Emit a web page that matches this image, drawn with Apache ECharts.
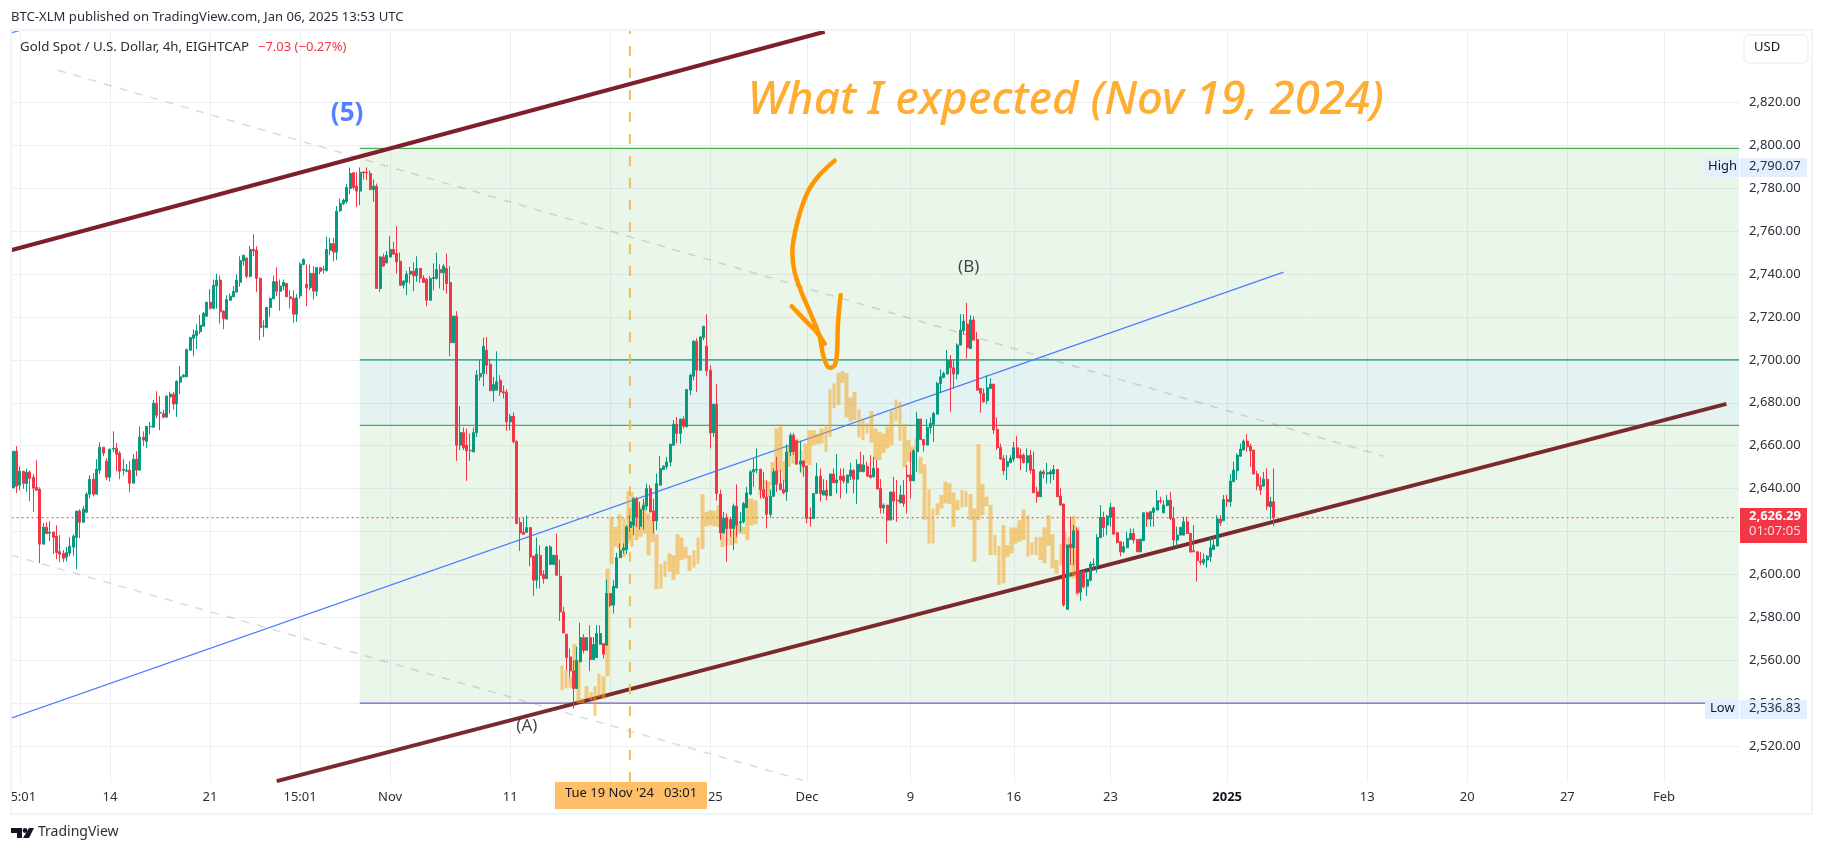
<!DOCTYPE html>
<html>
<head>
<meta charset="utf-8">
<style>html,body{margin:0;padding:0;background:#fff}#chart{width:1824px;height:853px}</style>
<script src="https://cdn.jsdelivr.net/npm/echarts@6/dist/echarts.min.js"></script>
</head>
<body>
<div id="chart"></div>
<script>
const candles = [
[2640.3,2657.4,2640.3,2657.4],[2657.4,2641.1,2638,2659.8],[2641.6,2648.1,2639.2,2650.4],[2648.1,2642.4,2639.9,2648.2],[2642.4,2647.6,2638.5,2649.3],[2647.6,2644.8,2634.1,2648.6],[2645.3,2640.2,2629.1,2646.7],[2640.6,2639.2,2639,2653.2],[2639.7,2614.1,2605.2,2640.6],[2614.1,2622,2614,2623.9],
[2622,2619,2618.7,2624.3],[2619.2,2619.7,2615.5,2624.8],[2619.7,2617.3,2609.4,2619.8],[2617.8,2610.2,2607.1,2622.9],[2610.6,2609.4,2605.7,2618.3],[2609.7,2607.5,2605.7,2611.3],[2608,2610.2,2606.1,2612.7],[2609.9,2613.1,2608.5,2617.3],[2612.7,2617.8,2608.5,2618.7],[2617.3,2629.5,2602.4,2629.6],
[2629.5,2624.3,2616.9,2630.4],[2624.3,2630.4,2623.9,2631.8],[2629,2637.4,2628.5,2638.3],[2637.4,2644.4,2635.5,2646.2],[2644.4,2637.4,2636.4,2647.2],[2637.4,2649,2637.3,2653.7],[2648.6,2659.3,2646.7,2661.6],[2659.3,2656.5,2655.1,2659.4],[2652.8,2645.3,2643.9,2654.2],[2645.3,2658.4,2643.4,2658.5],
[2658.4,2658.8,2657,2666.7],[2658.8,2656,2648.1,2661.2],[2656.5,2648.1,2644.4,2657.4],[2648.6,2649,2646.2,2653.7],[2648.1,2648.6,2647.6,2651.4],[2648.6,2642.5,2638.3,2652.8],[2642.5,2653.7,2642.4,2656],[2653.7,2648.6,2645.8,2657.4],[2648.6,2664,2648.5,2669],[2664,2662.6,2659.8,2666.7],
[2662,2669,2658.8,2669.1],[2668.8,2669,2665.3,2671],[2668.6,2679.8,2668.5,2681.2],[2679.8,2674.2,2672.8,2685.4],[2675.2,2675.5,2667.2,2683.1],[2675,2673.3,2672.8,2676.8],[2673.4,2683.1,2672.7,2683.6],[2682.7,2684,2675,2685.1],[2684,2679.4,2676.9,2685.1],[2679.4,2690,2673.4,2690.5],
[2689.6,2692.1,2684,2697.1],[2692.1,2692.9,2691.8,2693.3],[2692.1,2704.8,2692,2705.3],[2704.5,2710.4,2704.4,2710.7],[2710.1,2711.7,2701.7,2714.2],[2711.4,2713.5,2705.1,2716.6],[2713.1,2716.2,2712,2721],[2715.7,2721.6,2715.6,2722.4],[2720.4,2726.9,2720.1,2727],[2726.9,2724.1,2723.5,2733],
[2724.1,2734.7,2723.5,2737.5],[2734.4,2737.2,2723.8,2740.2],[2737.2,2722.4,2716.9,2739.3],[2722.7,2719.3,2714.3,2723.2],[2719,2728.1,2718.9,2730.1],[2727.8,2729.7,2727.7,2731],[2729.4,2731.9,2729.3,2734.4],[2731.6,2737.2,2731.5,2739.8],[2736.2,2746.3,2734.1,2748.3],[2746.2,2748.8,2744,2748.9],
[2747.4,2739,2738,2748],[2739,2751.5,2738.4,2753],[2751.5,2750.8,2748.3,2758.6],[2751.2,2738,2731.7,2753],[2738,2715,2709.2,2738.4],[2715.4,2715.7,2710.7,2718.5],[2715,2724.4,2714.9,2724.5],[2724.4,2728.6,2720.1,2729.1],[2728.5,2736.5,2728.4,2739.3],[2736.5,2732,2729.7,2743.2],
[2732,2734.4,2722.9,2737.5],[2734.4,2736.1,2732.5,2737.5],[2735.6,2729.4,2729.3,2735.7],[2729.4,2728.5,2724,2732.5],[2728.7,2721.3,2717.3,2732.5],[2721.3,2728.9,2717.7,2730.6],[2729.9,2744.6,2728.6,2745.5],[2744.5,2746.8,2744.1,2747.3],[2735.3,2733.6,2725,2744.6],[2733.6,2740.3,2732.5,2744.5],
[2740.3,2732,2728.1,2743.7],[2732,2743,2729.7,2743.4],[2743,2741.3,2740,2743.1],[2742,2742.3,2740.3,2743.7],[2741.5,2751.5,2741.4,2757.4],[2751.1,2754.2,2748.8,2756.9],[2754.2,2750.2,2746,2756.9],[2750.2,2769.3,2746.5,2771.7],[2769.5,2772.9,2769,2775.2],[2772.9,2774.5,2772.1,2775.2],
[2773.8,2780.4,2772.9,2781.9],[2779.9,2786.9,2777.2,2789.7],[2787.2,2780.4,2779.4,2787.7],[2781,2778.7,2771.3,2787.7],[2778.7,2787.5,2772.1,2789.7],[2787.5,2787.2,2784.1,2788.1],[2787.5,2787.2,2783.8,2789.7],[2786.9,2779.4,2779.1,2788.4],[2779.4,2781,2773.7,2784.1],[2781,2733.3,2733.2,2782.2],
[2733.3,2748,2731.7,2748.3],[2748,2743.8,2743.4,2749.6],[2745.2,2748.8,2745.1,2750.8],[2748,2751.5,2747.9,2757.7],[2751.5,2749.3,2749.2,2755],[2749.6,2745.7,2740.3,2762.3],[2746,2734.8,2734.7,2750],[2734.8,2736.7,2733.3,2737.2],[2736.2,2740,2730.2,2741.5],[2740,2741.3,2735.6,2743.4],
[2741.3,2739.2,2732,2745.5],[2739.2,2742.6,2736.4,2748.3],[2742.6,2738.2,2735.9,2742.9],[2738.2,2736.1,2735.9,2739.5],[2737.5,2727.8,2725,2738.2],[2727.8,2738,2727.7,2739],[2738,2738.4,2732.5,2745],[2738,2742.1,2737.5,2750],[2742.1,2740.6,2733.3,2744.6],[2740.6,2743.7,2732.5,2744.6],
[2742.6,2735.6,2730.9,2749.6],[2736.1,2708,2701.7,2743.7],[2708,2720.4,2707.9,2720.5],[2720.4,2660.2,2652.9,2722.7],[2660.2,2666.1,2657.9,2678.4],[2666.1,2659,2657.9,2668.5],[2660.2,2657.6,2643.6,2668],[2657.9,2657.6,2652.9,2665.7],[2657.1,2666.1,2657,2668.5],[2666.1,2692.9,2664.1,2695.2],
[2692.1,2693.6,2690.2,2700.2],[2693.6,2706.4,2687.7,2710.4],[2704.5,2697.5,2693.3,2710.7],[2698,2685.6,2685.5,2700.6],[2685.6,2688.5,2680.5,2692.1],[2685.9,2689.8,2685.8,2704],[2690.5,2685,2683.2,2692.9],[2685.2,2684.6,2682,2688],[2684.9,2671.1,2667,2686.3],[2671.1,2673.7,2667.2,2674.7],
[2673.7,2661.8,2661,2675.6],[2662,2623.7,2623.6,2662.5],[2624.2,2619.3,2610.9,2626.5],[2619.6,2618.7,2618.6,2626.5],[2619.6,2621.8,2619.5,2627.4],[2621.8,2608.1,2603.8,2621.9],[2608.5,2597.3,2590,2608.6],[2597.3,2609.4,2593.4,2617.2],[2608.9,2599.6,2593.4,2613.6],[2599.9,2598,2595.7,2601.9],
[2598,2612.8,2597.9,2613.1],[2604.6,2612.8,2604.5,2613.6],[2604.6,2608.9,2604.5,2609],[2608.9,2599.6,2599.5,2619],[2599.1,2582.5,2578.3,2606.9],[2582.5,2572.7,2572.6,2584.8],[2572.1,2561.2,2555.3,2572.2],[2561.5,2555,2552.2,2565.4],[2555,2546.8,2537.4,2560],[2546.8,2560,2546.7,2566.2],
[2559.2,2570.5,2559.1,2577.5],[2570.5,2564.6,2563.1,2572.1],[2564.6,2570.5,2564.3,2570.6],[2570.5,2560.3,2555,2576.3],[2560.3,2567.3,2560,2570.8],[2561.2,2572.4,2561.1,2576.3],[2567.4,2572.4,2567.3,2576.3],[2567.7,2562.8,2560.7,2567.8],[2567,2591.1,2566.9,2597.6],[2591.1,2585.6,2584.8,2591.2],
[2585.6,2594.5,2581.7,2597.3],[2593.7,2607.8,2593.6,2610],[2607.8,2611.3,2607.7,2614.4],[2611.3,2612.3,2609.7,2614.4],[2611.6,2622.1,2609.4,2622.9],[2621.8,2624.5,2619.8,2627.6],[2622.9,2635.3,2618.3,2636.1],[2635.3,2626.5,2622.1,2636.1],[2622.4,2630.2,2620.9,2633.8],[2630.2,2632.2,2620.9,2635.3],
[2631.8,2640,2629.9,2642.3],[2640,2629.1,2629,2641.6],[2629.6,2624.9,2619,2635.3],[2624.9,2642.3,2620.6,2647],[2641.6,2649.3,2641.5,2655.1],[2648.9,2650.4,2648.8,2650.9],[2650.1,2652.4,2648.9,2654.8],[2652.4,2660.7,2650.4,2660.8],[2660.2,2670,2660.1,2671.9],[2670,2665.7,2661,2673.4],
[2665.7,2672.4,2661,2672.7],[2672.4,2669.1,2668,2673.7],[2668.8,2686.2,2668.7,2686.3],[2685.9,2692.9,2683.5,2693.6],[2692.4,2708.7,2690.5,2709.2],[2708.7,2695.2,2685.1,2710],[2695.2,2710.7,2694.9,2711],[2710.4,2715.7,2709.2,2715.8],[2706.4,2694.9,2692.6,2721.3],[2695.2,2666,2658.7,2697.5],
[2666,2679.3,2664.1,2679.6],[2679.3,2637.7,2634.3,2688.7],[2637.4,2619.3,2616.2,2639.5],[2619.3,2626,2619.2,2629.1],[2626.5,2621.4,2605.8,2628.4],[2625.6,2621.4,2617.5,2626.8],[2621.4,2631.8,2611.3,2633],[2631.8,2622.9,2617.5,2641.9],[2624,2624.5,2619.8,2629.1],[2624.5,2633,2623.7,2633.8],
[2631.1,2638,2631,2640.8],[2637.4,2647.8,2636.9,2648.6],[2647.8,2648.9,2640.8,2654],[2648.6,2649,2647.2,2658.7],[2649,2639.5,2635.3,2649.3],[2639.5,2636.1,2635.3,2647.8],[2636.1,2628,2621.4,2643.9],[2628,2636.4,2626.5,2639.5],[2636.4,2647.8,2636.3,2649.3],[2648.2,2642,2638.5,2654.8],
[2642.3,2639.5,2639.4,2648.6],[2639.5,2638,2637.4,2643.9],[2638.5,2657.1,2634.3,2660.7],[2657.1,2664.9,2655.1,2666],[2664.9,2657.2,2655.6,2666],[2662.3,2651.4,2651.3,2662.6],[2651.4,2652.8,2647.8,2662.3],[2652.8,2650.2,2645.5,2653.3],[2650.5,2626.1,2623.8,2650.6],[2626.6,2626,2622.2,2631.2],
[2626,2637.7,2625.9,2637.8],[2637.7,2645.8,2637.6,2652],[2645.8,2637.7,2633.9,2649.4],[2637,2639,2636.9,2644.3],[2639.3,2636.7,2634.6,2644],[2636.7,2646.8,2636.6,2646.9],[2646.8,2642.7,2642.6,2649.4],[2642.7,2644,2637.7,2656.1],[2645.8,2644,2635.4,2649.4],[2645.8,2643.5,2642.4,2649.4],
[2642.7,2646.3,2637.7,2646.4],[2645.8,2648.6,2644,2652],[2648.6,2644.4,2637.7,2648.9],[2644.4,2651.3,2632.8,2653.6],[2651.3,2647.9,2647.8,2657.2],[2647.9,2651,2647.6,2655.6],[2650.2,2645.8,2645.7,2652.5],[2646.3,2645.2,2644.7,2655.6],[2645.5,2649.4,2645.2,2654.8],[2649.4,2639.8,2639.7,2653.3],
[2640.1,2631,2628.4,2644.4],[2631,2632.3,2628.4,2633.1],[2632.3,2625.3,2614.4,2632.4],[2625.3,2638.4,2625.2,2638.5],[2638.4,2634.2,2625.3,2645.5],[2634.6,2634.2,2624.5,2644],[2633.4,2637,2633.1,2641.6],[2637,2633.1,2631.5,2644],[2646.3,2645.5,2628.4,2651],[2646.3,2643.6,2635.4,2657.2],
[2643.6,2657.6,2643.5,2658.3],[2657.2,2672.4,2647.8,2675.8],[2672.4,2662.9,2662.6,2672.5],[2662.9,2660.3,2657.2,2663],[2660.3,2668.5,2660.2,2672.4],[2668.4,2670.4,2665.7,2673.2],[2670,2675,2661.8,2675.8],[2674.7,2689,2674.6,2689.8],[2689,2692.1,2684.7,2695.6],[2691.8,2693.7,2691.4,2694.5],
[2693.4,2699.9,2693.3,2704.6],[2699.9,2696.3,2675.8,2702.2],[2696.3,2693.4,2686.7,2699.9],[2693.4,2706.9,2690.9,2707.7],[2706.9,2713.9,2706.8,2721.3],[2713.6,2718.1,2711.6,2721.3],[2716.7,2705.7,2700.7,2726.6],[2705.3,2718.6,2705.2,2720.9],[2718.6,2709.2,2709.1,2720.4],[2709.5,2685.9,2685.8,2713.1],
[2686.7,2684.4,2675.4,2686.8],[2684.4,2680.5,2680,2686.7],[2681,2687,2679.4,2692.9],[2686.7,2688.7,2686.6,2691.4],[2688.7,2667.3,2665.4,2688.8],[2667.6,2659,2658,2673.2],[2659.2,2653.8,2653.3,2661],[2654.1,2648.3,2646.3,2655.6],[2650.2,2652.5,2644,2655.6],[2652.2,2654.1,2651.7,2655.6],
[2653.8,2659,2652.5,2661.8],[2659,2654.4,2654.3,2664.5],[2655.6,2654.1,2648.6,2658.7],[2655.6,2652.2,2651.7,2656.4],[2652,2655.3,2647.8,2658.7],[2655.6,2648.6,2647,2658],[2648.9,2638,2637.9,2657.2],[2638.5,2636.2,2633.4,2640.8],[2636.2,2647.8,2636.1,2648.6],[2647.8,2646.8,2644.7,2648.9],
[2646.8,2647.4,2642.4,2652],[2646.8,2647.8,2642.4,2648.9],[2646.8,2648.9,2644,2651],[2648.9,2636.2,2636.1,2649],[2636.5,2632.3,2632.2,2640.1],[2632.8,2585.7,2584.9,2632.9],[2583.7,2613.7,2583.6,2613.8],[2614,2612.4,2604.3,2626.9],[2612.4,2620.3,2604.3,2623],[2620.3,2591.4,2591.1,2621.9],
[2591.7,2601.2,2587.7,2601.3],[2601.2,2594.2,2593.4,2602],[2594.5,2597.6,2589.9,2602],[2597.3,2604.8,2596.6,2605.9],[2604.5,2604.8,2602,2607.4],[2604.3,2617.2,2600.8,2618.8],[2617.2,2626.6,2616.8,2632.3],[2626.6,2621.9,2617.5,2629.2],[2623,2627.2,2618.3,2627.6],[2626.6,2631.2,2622.2,2633.4],
[2631.2,2618.8,2618.3,2631.5],[2619.4,2614.9,2614.4,2619.9],[2615.2,2610.5,2608.5,2615.3],[2610.5,2612.9,2609.8,2615.2],[2612.4,2616.8,2612.3,2619.9],[2616.3,2619.1,2616,2621.4],[2619.1,2616,2614.4,2621.4],[2616.3,2610.5,2610.4,2616.4],[2610.5,2616.3,2610.4,2616.8],[2615.7,2628.7,2615.6,2628.8],
[2628.7,2625.8,2622.2,2629.2],[2625.8,2629.2,2622.2,2629.7],[2628.9,2630.8,2622.2,2631.5],[2630,2634.3,2629.9,2639.3],[2634.3,2634,2633,2636.2],[2628.7,2632.3,2628.6,2634.6],[2632,2634.6,2631.9,2637],[2634.6,2626.1,2625.3,2638.5],[2626.1,2616,2612.9,2631.5],[2616,2618.3,2613,2622.2],
[2618.3,2621.9,2618.2,2622.2],[2618.3,2624.5,2618.2,2626.9],[2624.5,2619.1,2619,2626.9],[2619.1,2610.5,2610,2619.2],[2611,2610.5,2610.4,2623],[2610.5,2606.4,2596.6,2610.6],[2606.2,2605.7,2604.3,2610.5],[2605.4,2607,2604.3,2609.8],[2606.7,2608.5,2603.2,2609],[2608.2,2612.4,2605.9,2617.5],
[2611.6,2613.7,2611.5,2617.5],[2613.2,2625.8,2613.1,2627.6],[2625.8,2624,2622.5,2627.6],[2625,2634.9,2624.9,2637],[2634.9,2633.9,2631.5,2637],[2633.9,2643.5,2631.5,2646.8],[2643.2,2648.6,2643.1,2652.5],[2648.3,2655.6,2644,2656.4],[2655.1,2658.4,2655,2661],[2658,2662.1,2657.9,2662.9],
[2662.1,2659.5,2657.2,2665.4],[2659.8,2657.6,2650.2,2661],[2657.9,2646.8,2646.7,2658],[2646.8,2641.2,2639.3,2648.3],[2641.6,2639.3,2637,2645.5],[2641.2,2644.4,2640.9,2647.8],[2644.4,2631.8,2630,2649.4],[2631.5,2633.9,2625.6,2636.2],[2633.9,2626.4,2622.5,2649.4]
]

// the pasted orange copy of the older chart: bodies only
const ghostFirstSlot = 133
const ghostTop = [2557.6,2555.3,2552.2,2567.4,2560,2542.1,2547.9,2545.2,2547.9,2553.8,2552.5,2602.7,2626.5,2622.1,2628,2626,2638.8,2638.5,2635.3,2631.5,2633.8,2628.4,2625.2,2618.7,2604.7,2606.3,2609.7,2608.9,2618.7,2617.2,2612.8,2608.9,2611.3,2617.2,2637.4,2629.1,2629.9,2629.6,2632.2,2619,2626.5,2620.6,2632.2,2623.7,2622.1,2635.3,2635.3,2634.6,2647,2643.9,2643.1,2652.4,2668,2670,2652.8,2660.2,2660.2,2663.4,2657.9,2661,2667.2,2667.2,2665.7,2668,2669.6,2686.2,2689,2694,2694.8,2693.7,2682.5,2685.1,2676.9,2671.9,2670.4,2676.1,2668,2666.5,2665.7,2668.8,2676.3,2681.6,2680.5,2670.1,2662.6,2659.5,2663.4,2654.8,2651.3,2639.6,2630.7,2633.1,2637,2643.2,2642.4,2638.2,2634.6,2639.3,2638.8,2637.4,2630.7,2660.7,2642.1,2636.2,2632.3,2618.3,2613.2,2623,2613.7,2621.9,2621.9,2625.3,2630.3,2627.6,2614.9,2617.5,2617.5,2621.9,2627.6,2618.8,2606.7,2614,2619.9,2617.5,2627.2,2622.2]
const ghostBottom = [2546,2546.8,2547.2,2547.5,2540,2540,2542.1,2541.3,2534,2542.9,2542.1,2552.5,2604.7,2612.8,2612,2608.1,2614.4,2612.8,2615.9,2617.5,2619,2608.9,2615.1,2593.1,2593.4,2598.8,2601.2,2597.3,2600.1,2606.6,2607.4,2601.5,2603.2,2605,2611.7,2622.4,2622.9,2622.4,2622.1,2612.8,2613.6,2613.6,2614.4,2619,2618.7,2615.9,2622.9,2623.4,2636.9,2635.3,2636.1,2641.6,2643.1,2647.8,2643.1,2650.1,2651.7,2654.8,2647,2651.7,2650.9,2660.2,2660.7,2661,2657.1,2664.1,2677.4,2678.9,2689.3,2673.2,2671.2,2671.9,2663.9,2662.6,2665.7,2661.4,2653.3,2653.3,2656.7,2658.7,2660.3,2671.6,2662.3,2649.9,2652.5,2652.5,2657.9,2647,2625.3,2614.4,2614.4,2627.6,2630.7,2633.1,2632.8,2622.2,2630,2631.2,2631.5,2625.3,2605.9,2625.3,2627.6,2631.8,2609,2609,2595,2595.8,2608.2,2609.8,2614.4,2615.2,2616,2608.2,2609,2609,2606.7,2605.1,2613.3,2602.8,2600.4,2604.3,2612.1,2598.1,2598.1,2590.3]

const barSlots = 518
const ghostSlots = 419
const tickBars = [2, 29, 59, 86, 113, 149, 179, 209, 238, 269, 300, 329, 364, 406, 436, 466, 495]
const tickLabels = ['  5:01', '14', '21', '15:01', 'Nov', '11', '18', '   25', 'Dec', '9', '16', '23', '2025', '13', '20', '27', 'Feb']
const priceTicks = [2520, 2540, 2560, 2580, 2600, 2620, 2640, 2660, 2680, 2700, 2720, 2740, 2760, 2780, 2800, 2820]

// levels of the drawn range, in price
const rangeStartBar = 103.9
const rangeHigh = 2798.6
const bandTop = 2700
const bandBottom = 2669.5
const rangeLow = 2540
const lastPrice = 2626.4
const priceMin = 2503.2
const priceMax = 2853.8

// trend lines as [bar, price] pairs
const upperChannel = [[-0.7, 2751.1], [243.3, 2853]]
const lowerChannel = [[79, 2503.6], [513.7, 2679.5]]
const blueLine = [[-0.7, 2533], [380.9, 2740.9]]
const blueCorner = [[-0.7, 2852.4], [2.2, 2853.7]]
const greyUpper = [[13.4, 2835], [410.9, 2655.1]]
const greyLower = [[-0.7, 2609], [237.3, 2503.8]]
const markerLine = [[184.9, priceMin], [184.9, priceMax]]
const arrowStroke = [[246.3, 2792.9], [241.8, 2786.3], [238.2, 2778.2], [235.2, 2764.7], [233.6, 2750], [234.3, 2741], [236.3, 2731.7], [239.3, 2720.8], [241.8, 2710.7], [243, 2701.4], [244.8, 2696.3], [246.3, 2697.5], [247, 2703], [247.3, 2717], [248.1, 2730.2]]
const arrowBarb = [[233.4, 2725], [237.9, 2717.7], [240.9, 2713], [243.3, 2707.6]]

const font = '"Noto Sans", sans-serif'
const green = '#089981'
const red = '#f23645'

const categories = Array.from({ length: barSlots }, (_, i) => String(i))
const ghostCategories = Array.from({ length: ghostSlots }, (_, i) => String(i))
const ghostData = ghostCategories.map((_, i) => {
  const k = i - ghostFirstSlot
  if (k < 0 || k >= ghostTop.length) return '-'
  return [ghostBottom[k], ghostTop[k], ghostBottom[k], ghostTop[k]]
})

function overlay(name, data, lineStyle, z, smooth) {
  return {
    name, type: 'line', xAxisIndex: 2, yAxisIndex: 0, data, z, smooth: smooth || false,
    symbol: 'none', silent: true, animation: false, lineStyle, clip: true
  }
}

function note(text, point, label) {
  return {
    type: 'scatter', xAxisIndex: 2, yAxisIndex: 0, symbolSize: 0, z: 8, silent: true, animation: false,
    data: [point],
    label: Object.assign({ show: true, position: 'inside', formatter: text, fontFamily: font }, label)
  }
}

function level(price, color) {
  return overlay('level', [[rangeStartBar, price], [barSlots - 0.5, price]], { color, width: 1.2 }, 2)
}

const myChart = echarts.init(document.getElementById('chart'), null, { renderer: 'canvas' })
myChart.setOption({
  animation: false,
  backgroundColor: '#ffffff',
  grid: { left: 11.6, top: 30, width: 1727.5, height: 752 },
  xAxis: [
    {
      type: 'category',
      data: categories,
      boundaryGap: true,
      axisLine: { show: false },
      axisTick: { show: false },
      splitLine: {
        show: true,
        alignWithLabel: true,
        interval: (i) => tickBars.includes(i),
        lineStyle: { color: '#eceef2', width: 1 }
      },
      axisLabel: {
        interval: (i) => tickBars.includes(i),
        formatter: (v) => {
          const label = tickLabels[tickBars.indexOf(Number(v))]
          return label === '2025' ? '{b|2025}' : label
        },
        rich: { b: { fontWeight: 'bold', fontSize: 13, fontFamily: font, color: '#131722' } },
        margin: 9,
        fontSize: 13,
        fontFamily: font,
        color: '#2a2e39'
      }
    },
    { type: 'category', data: ghostCategories, show: false },
    { type: 'value', min: -0.5, max: barSlots - 0.5, show: false, splitLine: { show: false } }
  ],
  yAxis: [
    {
      type: 'value',
      position: 'right',
      min: priceMin,
      max: priceMax,
      axisLine: { show: false },
      axisTick: { show: false, customValues: priceTicks },
      splitLine: { show: true, lineStyle: { color: '#eceef2', width: 1 } },
      axisLabel: {
        customValues: priceTicks,
        margin: 10,
        fontSize: 13,
        fontFamily: font,
        color: '#2a2e39',
        formatter: (v) => v.toLocaleString('en-US', { minimumFractionDigits: 2, maximumFractionDigits: 2 })
      }
    }
  ],
  series: [
    {
      type: 'line', xAxisIndex: 2, yAxisIndex: 0, data: [], z: 1, silent: true,
      markArea: {
        silent: true,
        data: [
          [{ xAxis: rangeStartBar, yAxis: rangeHigh, itemStyle: { color: 'rgba(76,175,80,0.115)' } }, { xAxis: barSlots - 0.5, yAxis: bandTop }],
          [{ xAxis: rangeStartBar, yAxis: bandTop, itemStyle: { color: 'rgba(8,153,129,0.115)' } }, { xAxis: barSlots - 0.5, yAxis: bandBottom }],
          [{ xAxis: rangeStartBar, yAxis: bandBottom, itemStyle: { color: 'rgba(76,175,80,0.115)' } }, { xAxis: barSlots - 0.5, yAxis: rangeLow }]
        ]
      }
    },
    level(rangeHigh, '#4caf50'),
    level(bandTop, green),
    level(bandBottom, '#4caf50'),
    level(rangeLow, '#7e57c2'),
    overlay('grey upper', greyUpper, { color: 'rgba(120,123,134,0.28)', width: 1.5, type: [8, 8] }, 2),
    overlay('grey lower', greyLower, { color: 'rgba(120,123,134,0.28)', width: 1.5, type: [8, 8] }, 2),
    overlay('blue', blueLine, { color: '#4a7dff', width: 1.2 }, 3),
    overlay('blue corner', blueCorner, { color: '#4a7dff', width: 1.2 }, 3),
    overlay('upper channel', upperChannel, { color: '#7f1f2a', width: 4 }, 3),
    overlay('lower channel', lowerChannel, { color: '#7a2a2c', width: 4 }, 3),
    overlay('marker', markerLine, { color: '#f7b955', width: 2, type: [10, 12] }, 3),
    {
      name: 'ghost', type: 'candlestick', xAxisIndex: 1, yAxisIndex: 0, data: ghostData, z: 4,
      barWidth: 4.2, silent: true, animation: false,
      itemStyle: { color: '#f5a623', color0: '#f5a623', borderColor: '#f5a623', borderColor0: '#f5a623', borderWidth: 0, opacity: 0.55 }
    },
    overlay('last price', [[-0.5, lastPrice], [barSlots - 1.2, lastPrice]], { color: red, width: 1, type: [2, 3] }, 4),
    {
      name: 'gold', type: 'candlestick', xAxisIndex: 0, yAxisIndex: 0, data: candles, z: 5,
      barWidth: 2.5, silent: true, animation: false,
      itemStyle: { color: green, color0: red, borderColor: green, borderColor0: red, borderWidth: 1 }
    },
    overlay('arrow', arrowStroke, { color: '#ff9800', width: 4.5, cap: 'round', join: 'round' }, 6, 0.35),
    overlay('arrow barb', arrowBarb, { color: '#ff9800', width: 4.5, cap: 'round', join: 'round' }, 6, 0.3),
    note('(5)', [100.1, 2815], { fontSize: 26, fontWeight: 'bold', color: '#2962ff' }),
    note('(A)', [154, 2529.2], { fontSize: 17, color: '#131722' }),
    note('(B)', [286.5, 2743], { fontSize: 17, color: '#131722' }),
    note('What I expected (Nov 19, 2024)', [315.6, 2820.6], { fontSize: 45.5, fontStyle: 'italic', fontWeight: 500, color: '#ff9800' })
  ],
  graphic: [
    { type: 'rect', z: 20, shape: { x: 11, y: 30, width: 1801, height: 784 }, style: { fill: 'none', stroke: '#f0f3fa', lineWidth: 2 } },
    { type: 'text', z: 20, x: 11, y: 11, style: { text: 'BTC-XLM published on TradingView.com, Jan 06, 2025 13:53 UTC', font: '13.1px ' + font, fill: '#2a2e39' } },
    { type: 'text', z: 20, x: 20, y: 41, style: { text: 'Gold Spot / U.S. Dollar, 4h, EIGHTCAP', font: '13.3px ' + font, fill: '#2a2e39' } },
    { type: 'text', z: 20, x: 258, y: 41, style: { text: '\u22127.03 (\u22120.27%)', font: '13px ' + font, fill: red } },
    { type: 'rect', z: 20, shape: { x: 1744, y: 35, width: 64, height: 28, r: 5 }, style: { fill: '#fff', stroke: '#eef0f5', lineWidth: 1.5 } },
    { type: 'text', z: 21, x: 1754, y: 41, style: { text: 'USD', font: '13px ' + font, fill: '#131722' } },
    // High tag
    { type: 'rect', z: 20, shape: { x: 1703, y: 158, width: 36, height: 19 }, style: { fill: '#e3effd' } },
    { type: 'text', z: 21, x: 1708, y: 160, style: { text: 'High', font: '13px ' + font, fill: '#131722' } },
    { type: 'rect', z: 20, shape: { x: 1740, y: 158, width: 67, height: 19 }, style: { fill: '#e3effd' } },
    { type: 'text', z: 21, x: 1749, y: 160, style: { text: '2,790.07', font: '13px ' + font, fill: '#2a2e39' } },
    // Low tag
    { type: 'rect', z: 20, shape: { x: 1705, y: 700, width: 34, height: 19 }, style: { fill: '#e3effd' } },
    { type: 'text', z: 21, x: 1710, y: 702, style: { text: 'Low', font: '13px ' + font, fill: '#131722' } },
    { type: 'rect', z: 20, shape: { x: 1740, y: 700, width: 67, height: 19 }, style: { fill: '#e3effd' } },
    { type: 'text', z: 21, x: 1749, y: 702, style: { text: '2,536.83', font: '13px ' + font, fill: '#2a2e39' } },
    // last price tag
    { type: 'rect', z: 20, shape: { x: 1740, y: 508, width: 67, height: 35 }, style: { fill: red } },
    { type: 'text', z: 21, x: 1749, y: 510, style: { text: '2,626.29', font: 'bold 13px ' + font, fill: '#fff' } },
    { type: 'text', z: 21, x: 1749, y: 525, style: { text: '01:07:05', font: '13px ' + font, fill: '#ffd5d9' } },
    // crosshair date on the time axis
    { type: 'rect', z: 20, shape: { x: 555, y: 782, width: 152, height: 27 }, style: { fill: '#ffbf66' } },
    { type: 'text', z: 21, x: 565, y: 787, style: { text: "Tue 19 Nov '24   03:01", font: '13px ' + font, fill: '#131722' } },
    // TradingView mark
    { type: 'polygon', z: 20, shape: { points: [[11, 828], [22, 828], [22, 838], [17, 838], [17, 833], [11, 833]] }, style: { fill: '#131722' } },
    { type: 'circle', z: 20, shape: { cx: 25, cy: 830.5, r: 2.4 }, style: { fill: '#131722' } },
    { type: 'polygon', z: 20, shape: { points: [[29, 828], [34, 828], [29, 838], [23, 838]] }, style: { fill: '#131722' } },
    { type: 'text', z: 20, x: 38, y: 825, style: { text: 'TradingView', font: '14px ' + font, fill: '#2a2e39' } }
  ]
})
</script>
</body>
</html>
